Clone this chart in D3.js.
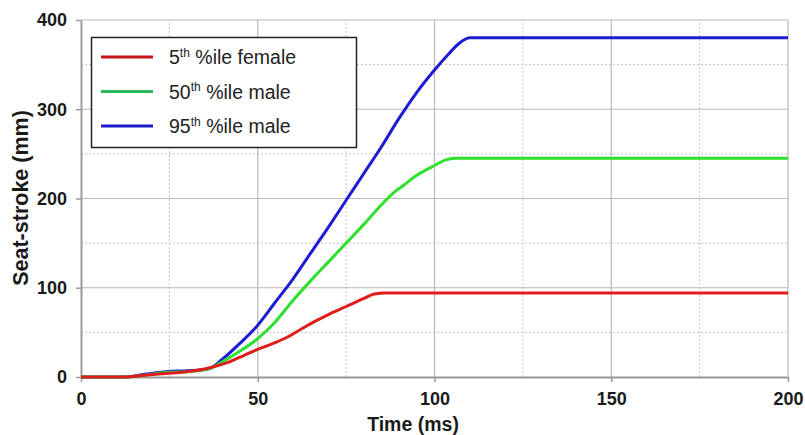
<!DOCTYPE html>
<html>
<head>
<meta charset="utf-8">
<script src="https://cdn.jsdelivr.net/npm/d3@7"></script>
<style>
  html, body { margin: 0; padding: 0; background: #fff; }
  svg { display: block; font-family: Arial, "Liberation Sans", sans-serif; }
</style>
</head>
<body>
<svg id="chart" width="805" height="435"></svg>
<script>
// Seat-stroke histories (mm) against time (ms) for three occupant sizes
const timeFemale5 = [0, 12, 18, 24, 30, 35, 38, 42, 46, 50, 54, 58, 62, 66, 70, 75, 80, 83, 86, 200];
const strokeFemale5 = [0, 0, 2, 4, 6, 9, 12, 17, 24, 31, 37, 44, 53, 62, 70, 79, 88, 93, 94, 94];

const timeMale50 = [0, 12, 18, 24, 30, 36, 40, 45, 50, 55, 60, 65, 70, 75, 80, 85, 88, 91, 95, 100, 103, 106, 200];
const strokeMale50 = [0, 0, 2, 5, 6, 9, 17, 29, 43, 62, 86, 108, 129, 150, 171, 193, 205, 214, 226, 237, 243, 245, 245];

const timeMale95 = [0, 12, 18, 24, 30, 36, 40, 45, 50, 55, 60, 65, 70, 75, 80, 85, 90, 95, 100, 104, 107, 110, 200];
const strokeMale95 = [0, 0, 3, 6, 7, 9, 20, 38, 58, 84, 110, 139, 168, 198, 228, 258, 290, 319, 344, 362, 374, 380, 380];

const seriesNames = ["5", "50", "95"];
const seriesSuffix = ["%ile female", "%ile male", "%ile male"];
const lineColors = ["#e01c1c", "#2fe02f", "#1c1cd2"];
const legendColors = ["#c4161c", "#2cb85a", "#1c1cc8"];

const xTicks = [0, 50, 100, 150, 200];
const yTicks = [0, 100, 200, 300, 400];
const xMinor = [25, 75, 125, 175];
const yMinor = [50, 150, 250, 350];

const W = 805, H = 435;
const margin = { left: 81, top: 20, right: 17, bottom: 58 };

const svg = d3.select("#chart");
svg.append("rect").attr("width", W).attr("height", H).attr("fill", "#fff");

const x = d3.scaleLinear().domain([0, 200]).range([margin.left, W - margin.right]);
const y = d3.scaleLinear().domain([0, 400]).range([H - margin.bottom, margin.top]);

const grid = svg.append("g");
// dotted minor grid
grid.selectAll(".xm").data(xMinor).join("line")
  .attr("x1", d => x(d)).attr("x2", d => x(d))
  .attr("y1", y(0)).attr("y2", y(400))
  .attr("stroke", "#c4c4c4").attr("stroke-width", 1).attr("stroke-dasharray", "2,2");
grid.selectAll(".ym").data(yMinor).join("line")
  .attr("y1", d => y(d)).attr("y2", d => y(d))
  .attr("x1", x(0)).attr("x2", x(200))
  .attr("stroke", "#c4c4c4").attr("stroke-width", 1).attr("stroke-dasharray", "2,2");
// solid major grid, including the top and right frame
grid.selectAll(".xM").data(xTicks.slice(1)).join("line")
  .attr("x1", d => x(d)).attr("x2", d => x(d))
  .attr("y1", y(0)).attr("y2", y(400))
  .attr("stroke", "#b8b8b8").attr("stroke-width", 1.2);
grid.selectAll(".yM").data(yTicks.slice(1)).join("line")
  .attr("y1", d => y(d)).attr("y2", d => y(d))
  .attr("x1", x(0)).attr("x2", x(200))
  .attr("stroke", "#b8b8b8").attr("stroke-width", 1.2);

// axes
const styleAxis = g => {
  g.select(".domain").attr("stroke", "#9a9a9a").attr("stroke-width", 2);
  g.selectAll(".tick line").attr("stroke", "#9a9a9a").attr("stroke-width", 1.5);
  g.selectAll(".tick text").attr("fill", "#1a1a1a")
    .attr("font-size", 18).attr("font-weight", "bold")
    .attr("font-family", "Arial, 'Liberation Sans', sans-serif");
};

svg.append("g")
  .attr("transform", `translate(0,${y(0)})`)
  .call(d3.axisBottom(x).tickValues(xTicks).tickSizeInner(5).tickSizeOuter(0).tickPadding(10).tickFormat(d3.format("d")))
  .call(styleAxis);

svg.append("g")
  .attr("transform", `translate(${x(0)},0)`)
  .call(d3.axisLeft(y).tickValues(yTicks).tickSizeInner(5).tickSizeOuter(0).tickPadding(9).tickFormat(d3.format("d")))
  .call(styleAxis);

// curves
const series = [
  timeFemale5.map((t, i) => [t, strokeFemale5[i]]),
  timeMale50.map((t, i) => [t, strokeMale50[i]]),
  timeMale95.map((t, i) => [t, strokeMale95[i]])
];
const line = d3.line().x(d => x(d[0])).y(d => y(d[1])).curve(d3.curveMonotoneX);
// draw largest first so the female curve sits on top near the origin
[2, 1, 0].forEach(i => {
  svg.append("path").datum(series[i])
    .attr("d", line)
    .attr("fill", "none")
    .attr("stroke", lineColors[i])
    .attr("stroke-width", 3)
    .attr("stroke-linejoin", "round");
});

// axis titles
svg.append("text")
  .attr("x", 413).attr("y", 431)
  .attr("text-anchor", "middle")
  .attr("font-size", 19.5).attr("font-weight", "bold").attr("fill", "#1a1a1a")
  .text("Time (ms)");

svg.append("text")
  .attr("transform", `translate(28,198) rotate(-90)`)
  .attr("text-anchor", "middle")
  .attr("font-size", 21.5).attr("font-weight", "bold").attr("fill", "#1a1a1a")
  .text("Seat-stroke (mm)");

// legend
const lg = svg.append("g");
lg.append("rect")
  .attr("x", 91.5).attr("y", 37.5).attr("width", 265).attr("height", 110)
  .attr("fill", "#fff").attr("stroke", "#222").attr("stroke-width", 1.5);
seriesNames.forEach((n, i) => {
  const cy = 57 + i * 34.5;
  lg.append("line")
    .attr("x1", 101).attr("x2", 153).attr("y1", cy).attr("y2", cy)
    .attr("stroke", legendColors[i]).attr("stroke-width", 3);
  const t = lg.append("text")
    .attr("x", 169).attr("y", cy + 7)
    .attr("font-size", 19.5).attr("fill", "#222");
  t.append("tspan").text(n);
  t.append("tspan").attr("dy", -7.5).attr("font-size", 12).text("th");
  t.append("tspan").attr("dy", 7.5).text("\u00a0" + seriesSuffix[i]);
});
</script>
</body>
</html>
